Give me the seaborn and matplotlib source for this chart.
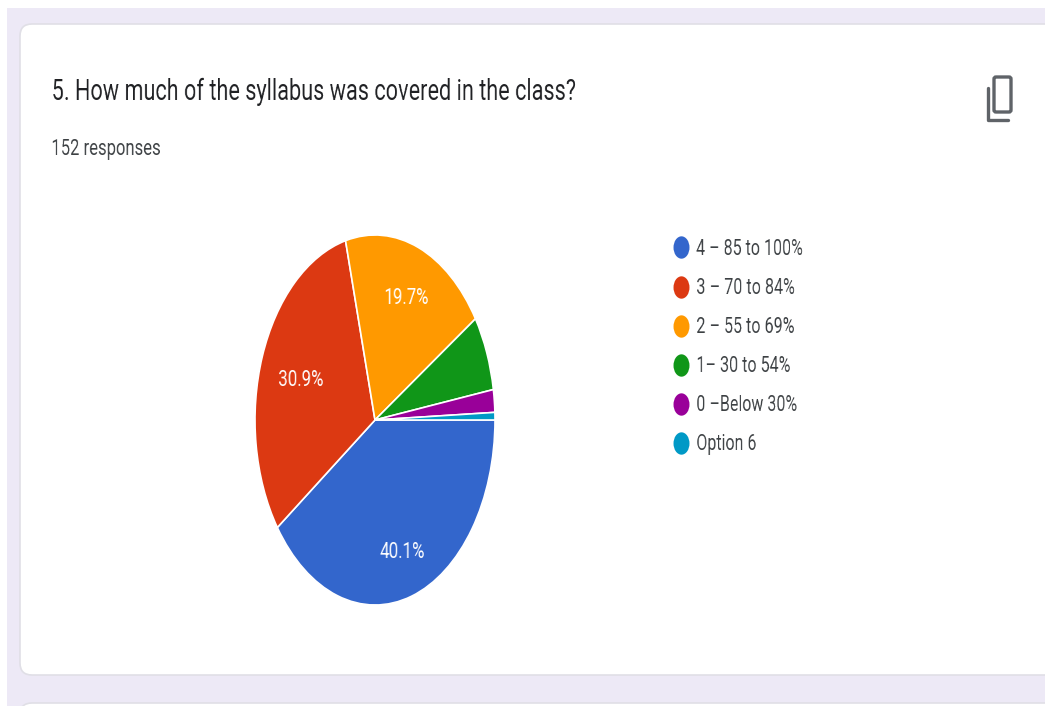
import matplotlib.pyplot as plt
import numpy as np
import seaborn as sns
from matplotlib.lines import Line2D
from matplotlib.markers import MarkerStyle
from matplotlib.patches import FancyBboxPatch, Rectangle
from matplotlib.transforms import Affine2D

title = '5. How much of the syllabus was covered in the class?'
subtitle = '152 responses'
options = ['4 – 85 to 100%', '3 – 70 to 84%', '2 – 55 to 69%', '1– 30 to 54%', '0 –Below 30%', 'Option 6']
counts = [61, 47, 30, 10, 3, 1]
colors = ['#3366cc', '#dc3912', '#ff9900', '#109618', '#990099', '#0099c6']
shown_labels = ['40.1%', '30.9%', '19.7%', '', '', '']
label_dist = [0.74, 0.66, 0.72, 0, 0, 0]

sns.set_theme(style='white')
plt.rcParams['font.family'] = ['Roboto', 'DejaVu Sans']
W, H = 1045, 706


def squeeze(k, center=False):
    # the source screenshot is squashed sideways, so text gets narrowed the same way
    def run(img, dpi):
        h, w = img.shape[:2]
        new_w = max(int(round(w * k)), 1)
        xs = np.linspace(0, w - 1, new_w)
        lo = np.floor(xs).astype(int)
        hi = np.minimum(lo + 1, w - 1)
        t = (xs - lo)[None, :, None]
        out = img[:, lo] * (1 - t) + img[:, hi] * t
        ox = (w - new_w) // 2 if center else 0
        return out, ox, 0
    return run


fig = plt.figure(figsize=(W / 100, H / 100), dpi=100, facecolor='white')

# page background and cards, drawn in pixel coordinates
bg = fig.add_axes([0, 0, 1, 1])
bg.set_xlim(0, W)
bg.set_ylim(H, 0)
bg.axis('off')
bg.add_patch(Rectangle((7, 8), W, H, color='#ede9f6', lw=0))
for y0, y1 in [(24, 675), (703, 760)]:
    bg.add_patch(FancyBboxPatch((20, y0), W, y1 - y0, boxstyle='round,pad=0,rounding_size=12',
                                fc='white', ec='#e0dfe6', lw=1.2))

# copy icon
bg.add_patch(FancyBboxPatch((994, 77), 17, 35, boxstyle='round,pad=0,rounding_size=2',
                            fc='none', ec='#5f6368', lw=2.4))
bg.plot([988, 988, 1008], [88, 120, 120], color='#5f6368', lw=2.4, solid_joinstyle='round')

t1 = bg.text(51, 92, title, fontsize=21.5, color='#202124', va='center', ha='left')
t1.set_agg_filter(squeeze(0.727))
t2 = bg.text(51, 149, subtitle, fontsize=16, color='#3c4043', va='center', ha='left')
t2.set_agg_filter(squeeze(0.75))

# pie is stretched vertically in the source, so the axes are not square
ax = fig.add_axes([255 / W, 1 - 605 / H, 240 / W, 370 / H])
wedges, texts = ax.pie(counts, colors=colors, startangle=0, counterclock=False, radius=1,
                       wedgeprops={'edgecolor': 'white', 'linewidth': 1.2})
ax.set_xlim(-1, 1)
ax.set_ylim(-1, 1)
ax.set_aspect('auto')
for wedge, label, dist in zip(wedges, shown_labels, label_dist):
    if label:
        ang = np.deg2rad((wedge.theta1 + wedge.theta2) / 2)
        txt = ax.text(dist * np.cos(ang), dist * np.sin(ang) - 0.014, label, color='white', fontsize=15.5,
                      ha='center', va='center')
        txt.set_agg_filter(squeeze(0.79, center=True))

# legend dots are ovals in the source too
oval = MarkerStyle('o', transform=Affine2D().scale(1, 1.4))
handles = [Line2D([], [], marker=oval, ls='', ms=11.5, mfc=c, mec=c, mew=0) for c in colors]
leg = bg.legend(handles, options, loc='upper left', bbox_to_anchor=(659 / W, 1 - 239 / H),
                bbox_transform=fig.transFigure, frameon=False, fontsize=15.5, labelspacing=0.84,
                handletextpad=-0.27, borderpad=0, borderaxespad=0, labelcolor='#3c4043')
for txt in leg.get_texts():
    txt.set_agg_filter(squeeze(0.75))

fig.savefig('out.png', dpi=100, facecolor='white')
